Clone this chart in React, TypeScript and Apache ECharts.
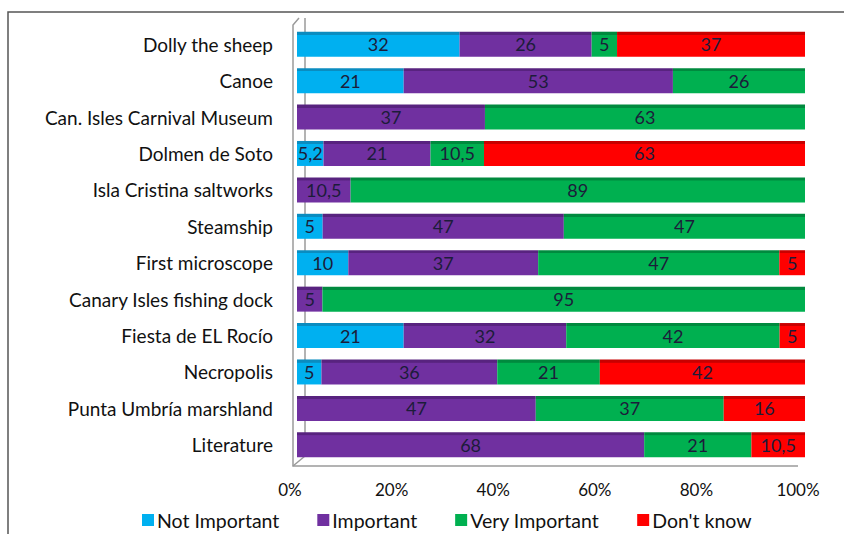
import React, { useEffect, useRef } from "react";
import * as echarts from "echarts";

const categories = [
  "Dolly the sheep",
  "Canoe",
  "Can. Isles Carnival Museum",
  "Dolmen de Soto",
  "Isla Cristina saltworks",
  "Steamship",
  "First microscope",
  "Canary Isles fishing dock",
  "Fiesta de EL Rocío",
  "Necropolis",
  "Punta Umbría marshland",
  "Literature",
];

const notImportant = [32, 21, 0, 5.2, 0, 5, 10, 0, 21, 5, 0, 0];
const important = [26, 53, 37, 21, 10.5, 47, 37, 5, 32, 36, 47, 68];
const veryImportant = [5, 26, 63, 10.5, 89, 47, 47, 95, 42, 21, 37, 21];
const dontKnow = [37, 0, 0, 63, 0, 0, 5, 0, 5, 42, 16, 10.5];

const seriesNames = ["Not Important", "Important", "Very Important", "Don't know"];
const seriesColors = ["#00B0F0", "#7030A0", "#00B050", "#FF0000"];
const seriesTops = ["#0a8cc0", "#58237f", "#008a3e", "#c80000"];
const xTicks = ["0%", "20%", "40%", "60%", "80%", "100%"];

const FONT = "Lato";

export default function App() {
  const ref = useRef<HTMLDivElement>(null);
  useEffect(() => {
    if (!ref.current) return;
    const chart = echarts.init(ref.current, null, { renderer: "svg" });
    const raw = [notImportant, important, veryImportant, dontKnow];
    const totals = categories.map((_, i) => raw.reduce((s, a) => s + a[i], 0));
    const series = raw.map((arr, k) => ({
      name: seriesNames[k],
      type: "bar",
      stack: "total",
      barWidth: 25,
      z: 3,
      data: arr.map((v, i) => (v / totals[i]) * 100),
      itemStyle: {
        color: new echarts.graphic.LinearGradient(0, 0, 0, 1, [
          { offset: 0, color: seriesTops[k] },
          { offset: 0.12, color: seriesTops[k] },
          { offset: 0.13, color: seriesColors[k] },
          { offset: 1, color: seriesColors[k] },
        ]),
      },
      label: {
        show: true,
        position: "inside",
        fontFamily: FONT,
        fontSize: 18,
        color: "#1c1c3a",
        formatter: (p: any) => {
          const v = arr[p.dataIndex];
          return v ? String(v).replace(".", ",") : "";
        },
      },
    }));
    const wall = { stroke: "#9a9a9a", lineWidth: 1.5, fill: "none" };
    chart.setOption({
      animation: false,
      color: seriesColors,
      grid: { left: 297, right: 39, top: 26, bottom: 71 },
      xAxis: {
        type: "value",
        min: 0,
        max: 100,
        interval: 20,
        axisLine: { show: false },
        axisTick: { show: false },
        splitLine: { show: false },
        axisLabel: {
          margin: 18,
          fontFamily: FONT,
          fontSize: 17,
          color: "#111",
          padding: [0, 14, 0, 0],
          formatter: (v: number) => xTicks[Math.round(v / 20)],
        },
      },
      yAxis: {
        type: "category",
        data: categories,
        inverse: true,
        axisLine: { show: false },
        axisTick: { show: false },
        axisLabel: {
          margin: 24,
          fontFamily: FONT,
          fontSize: 19,
          color: "#111",
        },
      },
      legend: {
        data: seriesNames.map((n, k) => ({ name: n, itemStyle: { color: seriesColors[k] } })),
        left: 137,
        top: 505,
        itemWidth: 12,
        itemHeight: 12,
        itemGap: 38,
        icon: "rect",
        textStyle: { fontFamily: FONT, fontSize: 19.5, color: "#111", padding: [0, 0, 0, -2] },
      },
      graphic: [
        {
          type: "rect",
          shape: { x: 8, y: 12, width: 900, height: 600 },
          style: { fill: "none", stroke: "#555", lineWidth: 1.5 },
          silent: true,
        },
        {
          type: "polyline",
          shape: { points: [[299, 18], [293, 25], [293, 466], [798, 466]] },
          style: wall,
          silent: true,
          z: 0,
        },
        {
          type: "polyline",
          shape: { points: [[293, 466], [305, 456]] },
          style: wall,
          silent: true,
          z: 0,
        },
        {
          type: "line",
          shape: { x1: 305, y1: 18, x2: 305, y2: 456 },
          style: wall,
          silent: true,
          z: 0,
        },
      ],
      series,
    });
    return () => chart.dispose();
  }, []);
  return (
    <div
      ref={ref}
      style={{ position: "fixed", left: 0, top: 0, width: 844, height: 534, background: "#fff" }}
    />
  );
}
